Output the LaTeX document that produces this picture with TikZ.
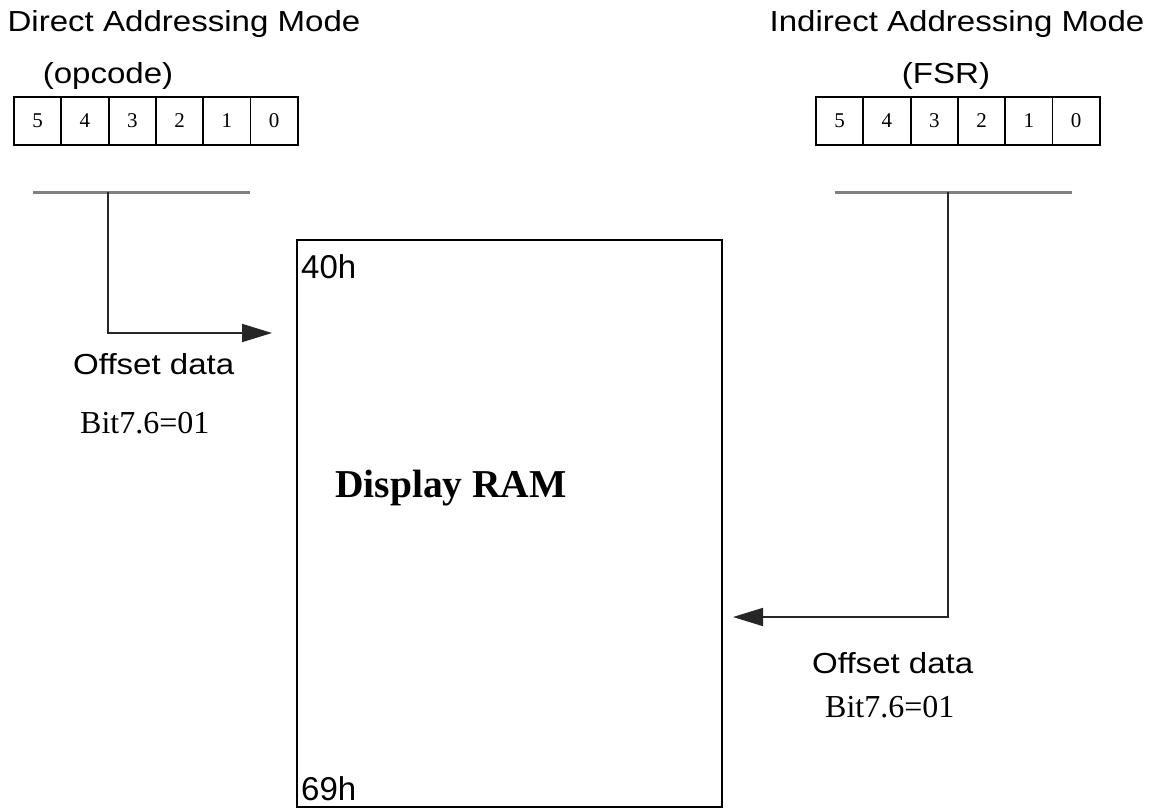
\documentclass[tikz,border=0pt]{standalone}
\usepackage{fontspec}
\setmainfont{Liberation Serif}
\newfontfamily\labelsans[FakeStretch=1.14]{Liberation Sans}
\newfontfamily\plainsans{Liberation Sans}
\usetikzlibrary{arrows.meta}

\begin{document}
\begin{tikzpicture}[x=1pt,y=-1pt,
  txt/.style={inner sep=0pt,anchor=base west},
  title/.style={inner sep=0pt,anchor=base,font=\labelsans\fontsize{29}{34}\selectfont},
  offset/.style={txt,font=\labelsans\fontsize{29}{34}\selectfont},
  bits/.style={txt,font=\fontsize{32}{38}\selectfont},
  addr/.style={txt,font=\plainsans\fontsize{33}{38}\selectfont},
  cell/.style={draw,line width=1.8pt,minimum width=47.3pt,minimum height=48pt,
               inner sep=0pt,font=\fontsize{21}{24}\selectfont},
  bar/.style={draw=black!50,line width=3pt},
  link/.style={draw=black!85,line width=1.8pt,-{Triangle[length=30pt,width=18pt]}},
  ram/.style={draw,line width=1.8pt,minimum width=425pt,minimum height=567pt,inner sep=0pt}]
\useasboundingbox (0,0) rectangle (1150,809);

% headings
\node[title] (dtitle) at (184,31) {Direct Addressing Mode};
\node[title] (dsub) at (108,83) {(opcode)};
\node[title] (ititle) at (957,31) {Indirect Addressing Mode};
\node[title] (isub) at (946,83) {(FSR)};

% six-bit registers
\foreach \b [count=\i from 0] in {5,4,3,2,1,0} {
  \node[cell] (dc\i) at ({14+23.65+47.3*\i},121) {\b};
  \node[cell] (ic\i) at ({816+23.65+47.3*\i},121) {\b};
}

% selection bars
\coordinate (dbarL) at (33,192);
\coordinate (dbarR) at (250,192);
\coordinate (dtap) at (108,192);
\coordinate (ibarL) at (835,192);
\coordinate (ibarR) at (1072,192);
\coordinate (itap) at (948,192);
\draw[bar] (dbarL) -- (dbarR);
\draw[bar] (ibarL) -- (ibarR);

% display RAM block
\node[ram] (ram) at (509.5,523.5) {};
\node[addr] (a40) at (301,278) {40h};
\node[addr] (a69) at (301,800) {69h};
\node[txt,font=\bfseries\fontsize{39.5}{44}\selectfont] (dram) at (335,497) {Display RAM};

% connectors into the RAM
\coordinate (dtip) at (272,333);
\coordinate (itip) at (733,617);
\draw[link] (dtap) |- (dtip);
\draw[link] (itap) |- (itip);

% offset annotations
\node[offset] (doff) at (73,374) {Offset data};
\node[bits] (dbit) at (80,433) {Bit7.6=01};
\node[offset] (ioff) at (812,673) {Offset data};
\node[bits] (ibit) at (825,717) {Bit7.6=01};
\end{tikzpicture}
\end{document}
